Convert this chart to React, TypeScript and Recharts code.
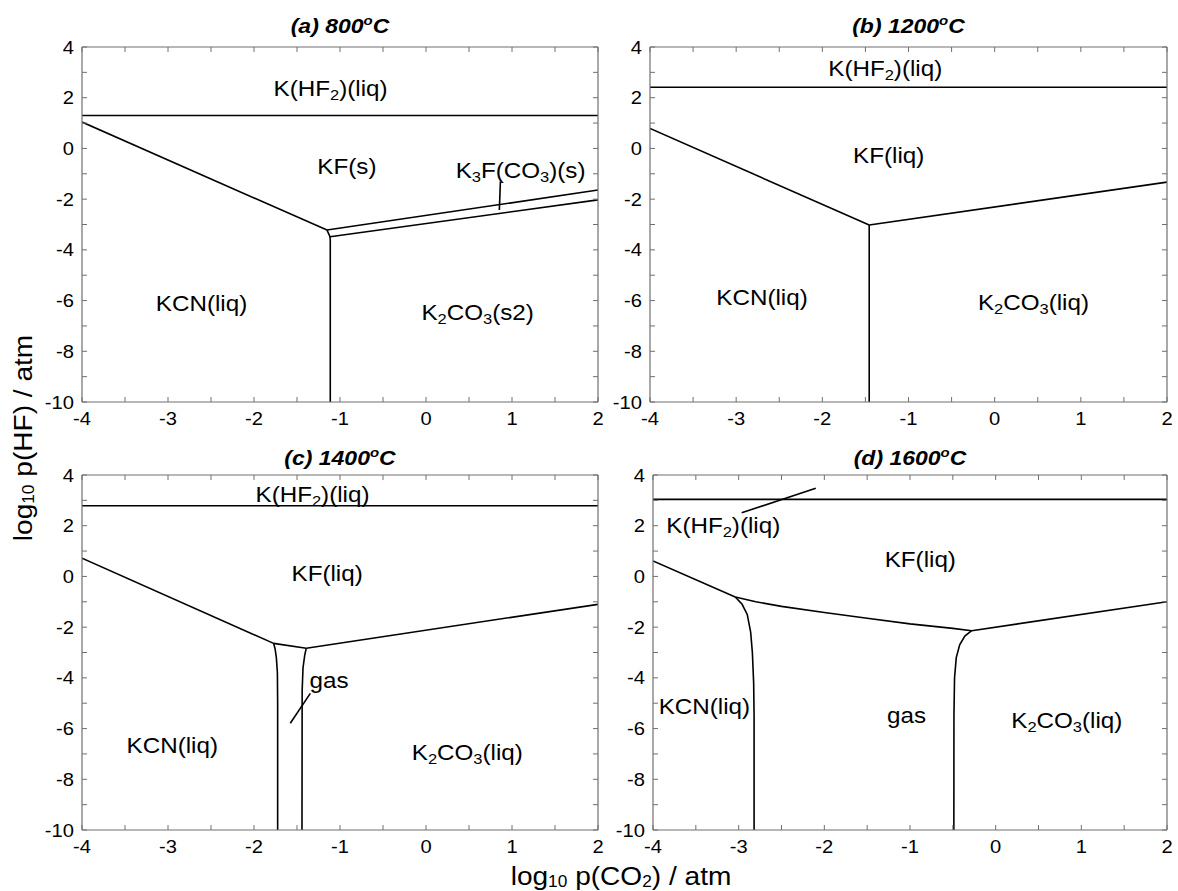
import React from 'react';
import { LineChart, Line, XAxis, YAxis, ReferenceDot } from 'recharts';

type P = { x: number; y: number };
type Part = [string, number];
const pts = (a: number[][]): P[] => a.map(([x, y]) => ({ x, y }));

// ---- tick values ----
const xTicks = [-4, -3.5, -3, -2.5, -2, -1.5, -1, -0.5, 0, 0.5, 1, 1.5, 2];
const yTicks = [-10, -9, -8, -7, -6, -5, -4, -3, -2, -1, 0, 1, 2, 3, 4];
const xTickLabels = [-4, -3, -2, -1, 0, 1, 2];
const yTickLabels = [-10, -8, -6, -4, -2, 0, 2, 4];

// ---- panel (a) 800 C ----
const aKHF2 = pts([[-4, 1.3], [2, 1.3]]);
const aKcnKf = pts([[-4, 1.04], [-1.151, -3.22]]);
const aKfK3f = pts([[-1.151, -3.22], [2, -1.64]]);
const aK3fK2co3 = pts([[-1.115, -3.48], [2, -2.03]]);
const aKcnK2co3 = pts([[-1.151, -3.22], [-1.12, -3.45], [-1.113, -3.6], [-1.113, -10]]);
const aLeader = pts([[0.865, -1.31], [0.853, -2.43]]);

// ---- panel (b) 1200 C ----
const bKHF2 = pts([[-4, 2.41], [2, 2.41]]);
const bKcnKf = pts([[-4, 0.79], [-1.456, -3.02]]);
const bKfK2co3 = pts([[-1.456, -3.02], [2, -1.33]]);
const bKcnK2co3 = pts([[-1.456, -3.02], [-1.456, -10]]);

// ---- panel (c) 1400 C ----
const cKHF2 = pts([[-4, 2.79], [2, 2.79]]);
const cKcnKf = pts([[-4, 0.72], [-1.772, -2.64]]);
const cKfGas = pts([[-1.772, -2.64], [-1.392, -2.83]]);
const cKfK2co3 = pts([[-1.392, -2.83], [2, -1.1]]);
const cKcnGas = pts([[-1.772, -2.64], [-1.755, -2.85], [-1.74, -3.2], [-1.728, -3.8], [-1.725, -5], [-1.725, -10]]);
const cGasK2co3 = pts([[-1.392, -2.83], [-1.41, -3.1], [-1.43, -3.6], [-1.44, -4.5], [-1.442, -10]]);
const cLeader = pts([[-1.345, -4.61], [-1.578, -5.79]]);

// ---- panel (d) 1600 C ----
const dKHF2 = pts([[-4, 3.04], [2, 3.04]]);
const dLeader = pts([[-2.965, 2.51], [-2.1, 3.48]]);
const dKcnKf = pts([[-4, 0.61], [-3.04, -0.81]]);
const dKfGas = pts([[-3.04, -0.81], [-2.8, -1.0], [-2.5, -1.18], [-2, -1.42], [-1.5, -1.65], [-1, -1.87], [-0.5, -2.05], [-0.28, -2.14]]);
const dKcnGas = pts([[-3.04, -0.81], [-2.96, -1.1], [-2.9, -1.5], [-2.86, -2.2], [-2.84, -3], [-2.825, -4.2], [-2.82, -5.5], [-2.82, -10]]);
const dGasK2co3 = pts([[-0.28, -2.14], [-0.36, -2.35], [-0.42, -2.7], [-0.46, -3.2], [-0.48, -4], [-0.487, -5.5], [-0.488, -10]]);
const dKfK2co3 = pts([[-0.28, -2.14], [2, -1.0]]);

// ---- region labels ----
const KHF2: Part[] = [['K(HF', 0], ['2', 1], [')(liq)', 0]];
const K2CO3liq: Part[] = [['K', 0], ['2', 1], ['CO', 0], ['3', 1], ['(liq)', 0]];
const labelsA = [
  { x: -1.11, y: 2.4, parts: KHF2 },
  { x: -0.92, y: -0.68, parts: [['KF(s)', 0]] as Part[] },
  { x: 1.1, y: -0.85, parts: [['K', 0], ['3', 1], ['F(CO', 0], ['3', 1], [')(s)', 0]] as Part[] },
  { x: -2.61, y: -6.09, parts: [['KCN(liq)', 0]] as Part[] },
  { x: 0.6, y: -6.45, parts: [['K', 0], ['2', 1], ['CO', 0], ['3', 1], ['(s2)', 0]] as Part[] },
];
const labelsB = [
  { x: -1.27, y: 3.17, parts: KHF2 },
  { x: -1.23, y: -0.24, parts: [['KF(liq)', 0]] as Part[] },
  { x: -2.7, y: -5.86, parts: [['KCN(liq)', 0]] as Part[] },
  { x: 0.45, y: -6.05, parts: K2CO3liq },
];
const labelsC = [
  { x: -1.32, y: 3.25, parts: KHF2 },
  { x: -1.15, y: 0.14, parts: [['KF(liq)', 0]] as Part[] },
  { x: -1.127, y: -4.08, parts: [['gas', 0]] as Part[] },
  { x: -2.95, y: -6.65, parts: [['KCN(liq)', 0]] as Part[] },
  { x: 0.48, y: -6.93, parts: K2CO3liq },
];
const labelsD = [
  { x: -3.18, y: 2.03, parts: KHF2 },
  { x: -0.88, y: 0.69, parts: [['KF(liq)', 0]] as Part[] },
  { x: -3.4, y: -5.11, parts: [['KCN(liq)', 0]] as Part[] },
  { x: -1.04, y: -5.46, parts: [['gas', 0]] as Part[] },
  { x: 0.83, y: -5.66, parts: K2CO3liq },
];

const W = 1178;
const H = 891;
const AX = '#707070';
const FONT = "'Liberation Sans', Arial, sans-serif";

function renderParts(parts: Part[], size: number, small: number, subDy: number, supDy: number) {
  let cur = 0;
  return parts.map(([s, k], i) => {
    const target = k === 1 ? subDy : k === 2 ? supDy : 0;
    const dy = target - cur;
    cur = target;
    return (
      <tspan key={i} dy={dy} fontSize={k ? small : size}>
        {s}
      </tspan>
    );
  });
}

function SText(props: {
  x: number; y: number; size: number; sx?: number; anchor?: string; weight?: string; italic?: boolean; rotate?: number; children: React.ReactNode;
}) {
  const { x, y, size, sx = 1, anchor = 'middle', weight, italic, rotate, children } = props;
  const t = `translate(${x},${y})${rotate ? ` rotate(${rotate})` : ''} scale(${sx},1)`;
  return (
    <text transform={t} textAnchor={anchor as any} fontFamily={FONT} fontSize={size} fontWeight={weight} fontStyle={italic ? 'italic' : undefined} fill="#000">
      {children}
    </text>
  );
}

const BottomTick = (p: any) => {
  const v = p.payload.value;
  return (
    <g>
      <line x1={p.x} y1={p.y} x2={p.x} y2={p.y - 5} stroke={AX} />
      {xTickLabels.includes(v) && (
        <SText x={p.x} y={p.y + 23} size={18} sx={1.12}>{String(v)}</SText>
      )}
    </g>
  );
};
const TopTick = (p: any) => <line x1={p.x} y1={p.y} x2={p.x} y2={p.y + 5} stroke={AX} />;
const LeftTick = (p: any) => {
  const v = p.payload.value;
  return (
    <g>
      <line x1={p.x} y1={p.y} x2={p.x + 5} y2={p.y} stroke={AX} />
      {yTickLabels.includes(v) && (
        <SText x={p.x - 8} y={p.y + 6.5} size={18} sx={1.12} anchor="end">{String(v)}</SText>
      )}
    </g>
  );
};
const RightTick = (p: any) => <line x1={p.x} y1={p.y} x2={p.x - 5} y2={p.y} stroke={AX} />;

type Box = { l: number; r: number; t: number; b: number };

function Panel(props: {
  box: Box; title: string; titleOff: number; khf2: P[]; lines: P[][]; labels: { x: number; y: number; parts: Part[] }[]; withAxisLabels?: boolean;
}) {
  const { box, title, titleOff, khf2, lines, labels, withAxisLabels } = props;
  const margin = { left: box.l - 40, right: W - box.r - 10, top: box.t - 10, bottom: H - box.b - 30 };
  const axisLine = { stroke: AX, strokeWidth: 1.2 };
  return (
    <div style={{ position: 'absolute', left: 0, top: 0 }}>
      <LineChart width={W} height={H} margin={margin}>
        <XAxis xAxisId="b" dataKey="x" type="number" domain={[-4, 2]} ticks={xTicks} interval={0} allowDataOverflow
          tickSize={0} tickMargin={0} tick={BottomTick} tickLine={false} axisLine={axisLine} height={30} />
        <XAxis xAxisId="t" orientation="top" dataKey="x" type="number" domain={[-4, 2]} ticks={xTicks} interval={0} allowDataOverflow
          tickSize={0} tickMargin={0} tick={TopTick} tickLine={false} axisLine={axisLine} height={10} />
        <YAxis yAxisId="l" type="number" domain={[-10, 4]} ticks={yTicks} interval={0} allowDataOverflow
          tickSize={0} tickMargin={0} tick={LeftTick} tickLine={false} axisLine={axisLine} width={40} />
        <YAxis yAxisId="r" orientation="right" type="number" domain={[-10, 4]} ticks={yTicks} interval={0} allowDataOverflow
          tickSize={0} tickMargin={0} tick={RightTick} tickLine={false} axisLine={axisLine} width={10} />
        <Line xAxisId="t" yAxisId="r" data={khf2} dataKey="y" type="linear" stroke="#000" strokeWidth={1.6} dot={false} activeDot={false} isAnimationActive={false} />
        {lines.map((d, i) => (
          <Line key={i} xAxisId="b" yAxisId="l" data={d} dataKey="y" type="linear" stroke="#000" strokeWidth={1.6} dot={false} activeDot={false} isAnimationActive={false} />
        ))}
        {labels.map((lb, i) => (
          <ReferenceDot key={'l' + i} xAxisId="b" yAxisId="l" x={lb.x} y={lb.y} r={1} ifOverflow="visible"
            shape={(p: any) => (
              <SText x={p.cx} y={p.cy + 8} size={22} sx={1.1}>{renderParts(lb.parts, 22, 15, 4, 0)}</SText>
            )} />
        ))}
        <ReferenceDot xAxisId="b" yAxisId="l" x={-1} y={4} r={1} ifOverflow="visible"
          shape={(p: any) => (
            <SText x={p.cx} y={p.cy - titleOff} size={20} sx={1.15} weight="bold" italic>
              {renderParts([[title, 0], ['o', 2], ['C', 0]], 20, 13, 0, -8)}
            </SText>
          )} />
        {withAxisLabels && (
          <ReferenceDot xAxisId="b" yAxisId="l" x={2} y={-10} r={1} ifOverflow="visible"
            shape={(p: any) => (
              <SText x={p.cx + 23} y={p.cy + 55} size={26} sx={1.08}>
                {renderParts([['log', 0], ['10', 1], [' p(CO', 0], ['2', 1], [') / atm', 0]], 26, 16, 2, 0)}
              </SText>
            )} />
        )}
        {withAxisLabels && (
          <ReferenceDot xAxisId="b" yAxisId="l" x={-4} y={4} r={1} ifOverflow="visible"
            shape={(p: any) => (
              <SText x={p.cx - 50} y={p.cy - 37} size={26} sx={1.08} rotate={-90}>
                {renderParts([['log', 0], ['10', 1], [' p(HF) / atm', 0]], 26, 16, 2, 0)}
              </SText>
            )} />
        )}
      </LineChart>
    </div>
  );
}

export default function App() {
  return (
    <div style={{ position: 'absolute', left: 0, top: 0, width: W, height: H, background: '#fff', overflow: 'hidden' }}>
      <Panel box={{ l: 82, r: 598, t: 47, b: 402 }} title="(a) 800" titleOff={14} khf2={aKHF2}
        lines={[aKcnKf, aKfK3f, aK3fK2co3, aKcnK2co3, aLeader]} labels={labelsA} />
      <Panel box={{ l: 650, r: 1167, t: 47, b: 402 }} title="(b) 1200" titleOff={14} khf2={bKHF2}
        lines={[bKcnKf, bKfK2co3, bKcnK2co3]} labels={labelsB} />
      <Panel box={{ l: 82, r: 598, t: 475, b: 830 }} title="(c) 1400" titleOff={10} khf2={cKHF2}
        lines={[cKcnKf, cKfGas, cKfK2co3, cKcnGas, cGasK2co3, cLeader]} labels={labelsC} withAxisLabels />
      <Panel box={{ l: 653, r: 1167, t: 475, b: 830 }} title="(d) 1600" titleOff={10} khf2={dKHF2}
        lines={[dLeader, dKcnKf, dKfGas, dKcnGas, dGasK2co3, dKfK2co3]} labels={labelsD} />
    </div>
  );
}
